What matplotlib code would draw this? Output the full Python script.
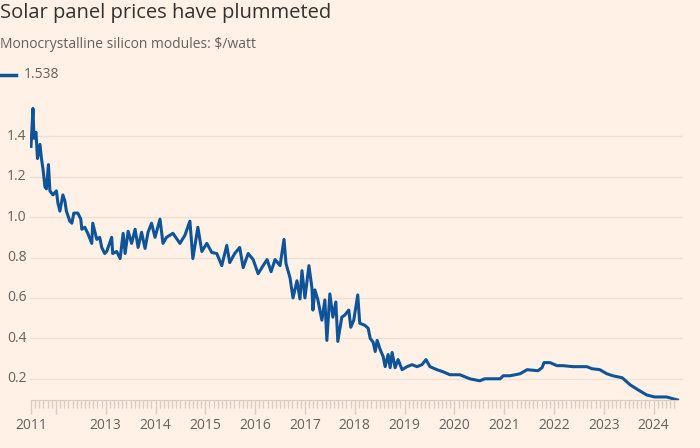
import matplotlib
matplotlib.use("Agg")
import matplotlib.pyplot as plt
import matplotlib.transforms as mtransforms
import numpy as np

# ── Data: monocrystalline silicon module price, $/watt ──
years = [
    2011.50, 2011.54, 2011.56, 2011.60, 2011.63, 2011.68, 2011.71, 2011.74,
    2011.78, 2011.81, 2011.85, 2011.88, 2011.94, 2012.01, 2012.04, 2012.08,
    2012.14, 2012.18, 2012.21, 2012.28, 2012.32, 2012.36, 2012.44, 2012.50,
    2012.52, 2012.58, 2012.64, 2012.72, 2012.74, 2012.82, 2012.88, 2012.92,
    2012.98, 2013.02, 2013.12, 2013.14, 2013.22, 2013.29, 2013.35, 2013.39,
    2013.45, 2013.52, 2013.59, 2013.65, 2013.72, 2013.79, 2013.85, 2013.92,
    2013.99, 2014.09, 2014.15, 2014.22, 2014.35, 2014.49, 2014.59, 2014.69,
    2014.75, 2014.85, 2014.93, 2015.03, 2015.13, 2015.23, 2015.33, 2015.43,
    2015.49, 2015.59, 2015.69, 2015.76, 2015.86, 2015.96, 2016.06, 2016.16,
    2016.24, 2016.32, 2016.40, 2016.50, 2016.58, 2016.62, 2016.70, 2016.76,
    2016.84, 2016.90, 2016.94, 2017.00, 2017.08, 2017.14, 2017.16, 2017.20,
    2017.26, 2017.34, 2017.40, 2017.44, 2017.50, 2017.56, 2017.62, 2017.66,
    2017.74, 2017.80, 2017.88, 2017.92, 2017.98, 2018.06, 2018.10, 2018.20,
    2018.27, 2018.31, 2018.37, 2018.41, 2018.45, 2018.51, 2018.57, 2018.61,
    2018.67, 2018.71, 2018.75, 2018.81, 2018.87, 2018.95, 2019.05, 2019.15,
    2019.25, 2019.35, 2019.43, 2019.51, 2019.65, 2019.77, 2019.91, 2020.11,
    2020.31, 2020.51, 2020.61, 2020.78, 2020.92, 2020.98, 2021.12, 2021.32,
    2021.46, 2021.68, 2021.76, 2021.80, 2021.92, 2022.06, 2022.18, 2022.38,
    2022.66, 2022.76, 2022.92, 2023.06, 2023.18, 2023.37, 2023.53, 2023.69,
    2023.86, 2024.02, 2024.26, 2024.48,
]
prices = [
    1.35, 1.538, 1.39, 1.42, 1.29, 1.36, 1.29, 1.24,
    1.15, 1.14, 1.26, 1.13, 1.11, 1.13, 1.07, 1.03,
    1.11, 1.08, 1.03, 0.98, 0.97, 1.02, 1.02, 0.99,
    0.94, 0.95, 0.92, 0.87, 0.97, 0.89, 0.90, 0.85,
    0.82, 0.83, 0.90, 0.82, 0.83, 0.795, 0.92, 0.82,
    0.93, 0.87, 0.94, 0.85, 0.925, 0.845, 0.925, 0.97,
    0.90, 0.99, 0.87, 0.90, 0.92, 0.87, 0.91, 0.98,
    0.795, 0.95, 0.83, 0.87, 0.825, 0.82, 0.76, 0.86,
    0.775, 0.82, 0.85, 0.75, 0.82, 0.79, 0.72, 0.76,
    0.79, 0.73, 0.79, 0.76, 0.89, 0.77, 0.70, 0.60,
    0.685, 0.595, 0.735, 0.60, 0.76, 0.65, 0.54, 0.64,
    0.59, 0.49, 0.59, 0.39, 0.62, 0.505, 0.58, 0.385,
    0.505, 0.515, 0.54, 0.455, 0.49, 0.615, 0.475, 0.465,
    0.45, 0.40, 0.38, 0.335, 0.39, 0.345, 0.31, 0.26,
    0.32, 0.255, 0.33, 0.255, 0.295, 0.245, 0.26, 0.27,
    0.26, 0.27, 0.295, 0.26, 0.245, 0.235, 0.22, 0.22,
    0.20, 0.19, 0.20, 0.20, 0.20, 0.215, 0.215, 0.225,
    0.245, 0.24, 0.255, 0.28, 0.28, 0.265, 0.265, 0.26,
    0.26, 0.25, 0.245, 0.225, 0.215, 0.205, 0.17, 0.145,
    0.12, 0.11, 0.11, 0.095,
]
y_ticks = [0.2, 0.4, 0.6, 0.8, 1.0, 1.2, 1.4]
year_ticks = list(range(2012, 2025))
legend_label = "1.538"

# ── Style ────────────────────────────────────────────────────────────────────
BG = "#FFF1E5"
LINE = "#0F5499"
GRID = "#EDE0D4"
AXIS = "#D9CCC1"
MUTED = "#66605C"
DARK = "#33302E"
FONT = "Open Sans"

plt.rcParams["font.family"] = [FONT, "DejaVu Sans"]

W, H = 700, 448
fig = plt.figure(figsize=(W / 100, H / 100), dpi=100, facecolor=BG)
ax = fig.add_axes([30 / W, 48 / H, (683 - 30) / W, (400 - 107) / H])
ax.set_facecolor(BG)

ax.plot(years, prices, color=LINE, lw=2.2, solid_joinstyle="round")

ax.set_xlim(2011.48, 2024.59)
ax.set_ylim(0.095, 1.545)

# y axis: grid, labels drawn as left-aligned text at the figure edge
ax.set_yticks(y_ticks)
ax.yaxis.grid(True, color=GRID, lw=1)
ax.tick_params(axis="y", length=0, labelleft=False)
ylab_tr = mtransforms.blended_transform_factory(fig.transFigure, ax.transData)
for v in y_ticks:
    ax.text(7 / W, v, f"{v:.1f}", transform=ylab_tr, ha="left", va="center",
            fontsize=10, color=MUTED, clip_on=False)

# x axis: first tick at data start labelled 2011, 2012 left unlabeled
x_major = [years[0]] + year_ticks
x_labels = ["2011", ""] + [str(y) for y in year_ticks[1:]]
ax.set_xticks(x_major)
ax.set_xticklabels(x_labels)
ax.set_xticks(np.arange(years[0], years[-1] + 0.001, 1 / 12), minor=True)
ax.tick_params(axis="x", which="major", length=10, width=1, color=AXIS,
               labelsize=10, labelcolor=MUTED, pad=3)
ax.tick_params(axis="x", which="minor", length=6, width=1, color=AXIS)

for side in ["top", "right", "left"]:
    ax.spines[side].set_visible(False)
ax.spines["bottom"].set_color(AXIS)
ax.spines["bottom"].set_bounds(years[0], years[-1])
ax.set_axisbelow(True)

# ── Header ───────────────────────────────────────────────────────────────────
fig.text(0, 1 - 13 / H, "Solar panel prices have plummeted", fontsize=14.5,
         color=DARK, va="center", ha="left")
fig.text(0, 1 - 44 / H, "Monocrystalline silicon modules: $/watt",
         fontsize=10, color=MUTED, va="center", ha="left")
fig.add_artist(plt.Line2D([0, 16 / W], [1 - 75 / H, 1 - 75 / H],
                          color=LINE, lw=2.5, transform=fig.transFigure))
fig.text(24 / W, 1 - 75 / H, legend_label, fontsize=10, color=MUTED,
         va="center", ha="left")

fig.savefig("out.png", dpi=100, facecolor=BG)
